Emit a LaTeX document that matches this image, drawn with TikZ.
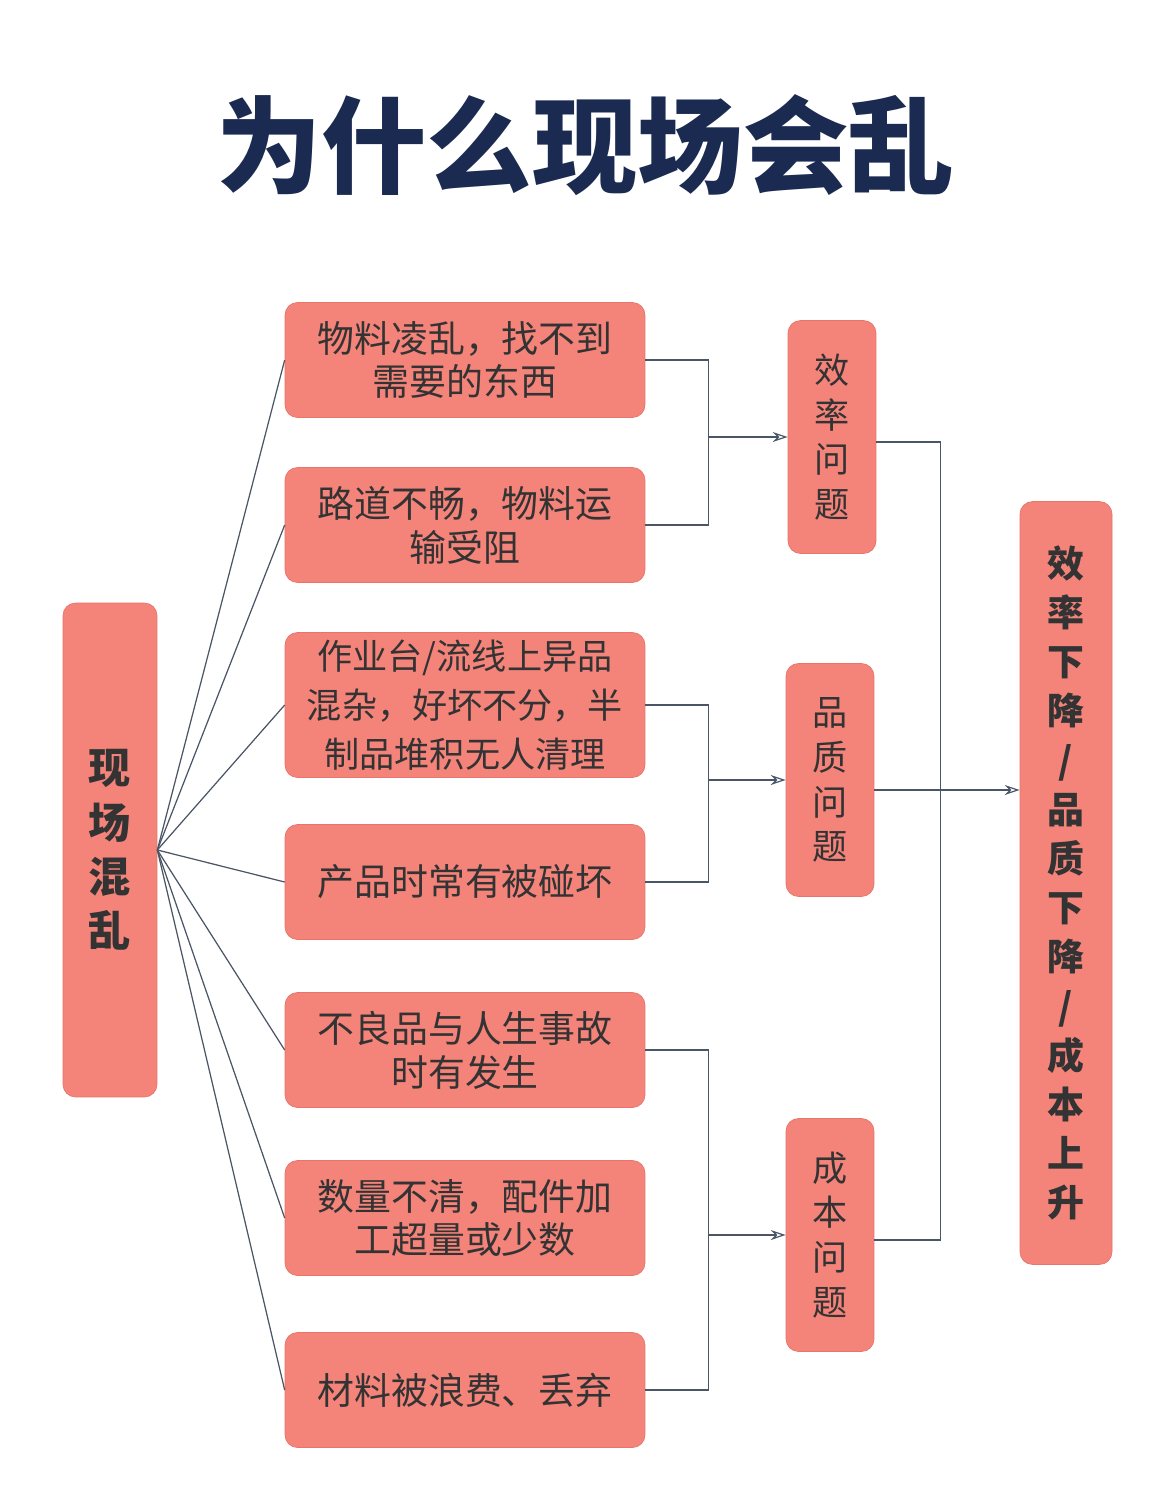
\documentclass[tikz,border=0pt]{standalone}
\usepackage{fontspec}
\setmainfont{Noto Sans CJK SC}
\usetikzlibrary{arrows.meta}
\definecolor{boxfill}{HTML}{F4837A}
\definecolor{boxline}{HTML}{E8746B}
\definecolor{navy}{HTML}{1B2A50}
\definecolor{wire}{HTML}{4A5566}
\tikzset{
  cause/.style={draw=boxline, fill=boxfill, rounded corners=0.25cm, minimum width=7.2cm,
    minimum height=2.3cm, align=center, text=black!80, font=\fontsize{21}{25}\selectfont},
  issue/.style={draw=boxline, fill=boxfill, rounded corners=0.25cm, minimum width=1.76cm,
    minimum height=4.66cm, align=center, text=black!80, font=\fontsize{20}{25.5}\selectfont},
  wire/.style={draw=wire, line width=0.7pt},
  arr/.style={wire, -{Stealth[length=3mm,width=2mm,open]}}
}
\begin{document}
\begin{tikzpicture}[x=0.02cm, y=-0.02cm]
  \useasboundingbox[fill=white] (0,0) rectangle (1170,1502);
  \node[text=navy, font=\bfseries\fontsize{60}{60}\selectfont] (title) at (585,145) {为什么现场会乱};

  % root
  \node[issue, minimum width=1.88cm, minimum height=9.88cm, font=\bfseries\fontsize{24}{31}\selectfont] (root) at (110,850) {现\\场\\混\\乱};

  % causes
  \node[cause] (c1) at (465,360)  {物料凌乱，找不到\\需要的东西};
  \node[cause] (c2) at (465,525)  {路道不畅，物料运\\输受阻};
  \node[cause, minimum height=2.9cm, font=\fontsize{20}{28}\selectfont] (c3) at (465,705) {作业台/流线上异品\\混杂，好坏不分，半\\制品堆积无人清理};
  \node[cause] (c4) at (465,882)  {产品时常有被碰坏};
  \node[cause] (c5) at (465,1050) {不良品与人生事故\\时有发生};
  \node[cause] (c6) at (465,1218) {数量不清，配件加\\工超量或少数};
  \node[cause] (c7) at (465,1390) {材料被浪费、丢弃};

  % issues
  \node[issue] (q1) at (832,437)  {效\\率\\问\\题};
  \node[issue] (q2) at (830,780)  {品\\质\\问\\题};
  \node[issue] (q3) at (830,1235) {成\\本\\问\\题};

  % result
  \node[issue, minimum width=1.84cm, minimum height=15.26cm, font=\bfseries\fontsize{21}{28}\selectfont] (res) at (1066,883)
    {效\\率\\下\\降\\/\\品\\质\\下\\降\\/\\成\\本\\上\\升};

  \foreach \c in {c1,c2,c3,c4,c5,c6,c7}
    \draw[wire] (root.east) -- (\c.west);

  \draw[wire] (c1.east) -- ++(63,0) coordinate (b1) |- (c2.east);
  \draw[arr] (b1 |- q1.west) -- (q1.west);
  \draw[wire] (c3.east) -- ++(63,0) coordinate (b2) |- (c4.east);
  \draw[arr] (b2 |- q2.west) -- (q2.west);
  \draw[wire] (c5.east) -- ++(63,0) coordinate (b3) |- (c7.east);
  \draw[arr] (b3 |- q3.west) -- (q3.west);

  \coordinate (q1e) at ([yshift=-0.1cm]q1.east);
  \coordinate (q2e) at ([yshift=-0.2cm]q2.east);
  \coordinate (q3e) at ([yshift=-0.1cm]q3.east);
  \draw[wire] (q1e) -- ++(64,0) coordinate (b4) |- (q3e);
  \draw[arr] (q2e) -- (res.west |- q2e);
\end{tikzpicture}
\end{document}
